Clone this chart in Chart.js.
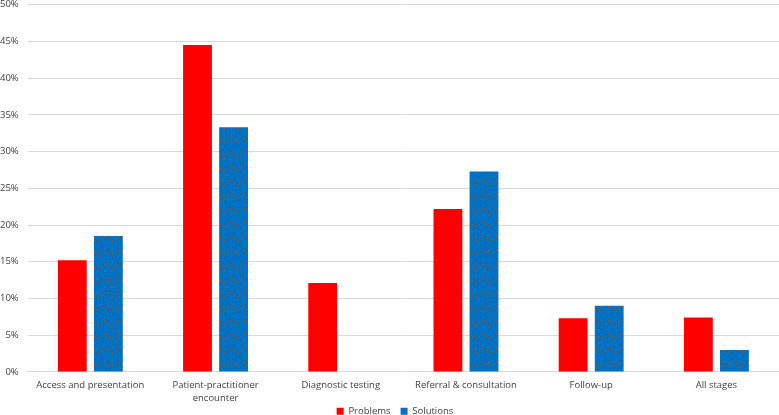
<!DOCTYPE html>
<html>
<head>
<meta charset="utf-8">
<script src="https://cdn.jsdelivr.net/npm/chart.js@4.4.1/dist/chart.umd.min.js"></script>
<style>
html,body{margin:0;padding:0;background:#fff;overflow:hidden;}
#wrap{width:779px;height:415px;position:relative;overflow:hidden;}
#inner{position:absolute;left:-9px;top:-10px;width:788px;height:451px;}
</style>
</head>
<body>
<div id="wrap"><div id="inner"><canvas id="c"></canvas></div></div>
<script>
const categories = ["Access and presentation", ["Patient-practitioner", "encounter"], "Diagnostic testing", "Referral & consultation", "Follow-up", "All stages"];
const problems = [15.2, 44.5, 12.1, 22.2, 7.3, 7.4];
const solutions = [18.5, 33.3, 0, 27.3, 9.0, 3.0];
const yTicks = [0, 5, 10, 15, 20, 25, 30, 35, 40, 45, 50];

function makePattern() {
  const p = document.createElement('canvas');
  p.width = 7; p.height = 7;
  const g = p.getContext('2d');
  g.fillStyle = '#0070C0';
  g.fillRect(0, 0, 7, 7);
  g.fillStyle = 'rgba(150,85,45,0.9)';
  g.fillRect(1, 1, 1, 1);
  g.fillRect(5, 3, 1, 1);
  g.fillRect(2, 5, 1, 1);
  return document.createElement('canvas').getContext('2d').createPattern(p, 'repeat');
}
const pattern = makePattern();

Chart.defaults.font.family = "'Open Sans', 'Liberation Sans', sans-serif";
Chart.defaults.color = '#404040';

const shiftLegend = {
  id: 'shiftLegend',
  afterLayout(chart) {
    const l = chart.legend;
    if (l) { l.left += 10; l.right += 10; l.top -= 15; l.bottom -= 15; }
  }
};

new Chart(document.getElementById('c'), {
  type: 'bar',
  data: {
    labels: categories,
    datasets: [
      { label: 'Problems', data: problems, backgroundColor: '#FF0000', borderWidth: 0 },
      { label: 'Solutions', data: solutions, backgroundColor: pattern, borderWidth: 0 }
    ]
  },
  plugins: [shiftLegend],
  options: {
    responsive: true,
    maintainAspectRatio: false,
    animation: false,
    devicePixelRatio: 1,
    layout: { padding: { top: 4, right: 0, left: 0, bottom: 0 } },
    datasets: { bar: { categoryPercentage: 0.576, barPercentage: 0.8 } },
    scales: {
      x: {
        grid: { display: false, drawTicks: false },
        border: { display: true, color: '#d9d9d9' },
        ticks: { font: { size: 9.5, lineHeight: 1.45 }, color: '#404040', maxRotation: 0, autoSkip: false, padding: 6 }
      },
      y: {
        min: 0, max: 50,
        afterBuildTicks: (axis) => { axis.ticks = yTicks.map(v => ({ value: v })); },
        grid: { color: '#d9d9d9', drawTicks: false },
        border: { display: false },
        ticks: { font: { size: 9.5 }, color: '#404040', padding: 9, callback: v => v + '%' }
      }
    },
    plugins: {
      legend: {
        position: 'bottom',
        labels: { boxWidth: 7, boxHeight: 7, font: { size: 9.5 }, color: '#404040', padding: 10 }
      },
      tooltip: { enabled: false }
    }
  }
});
</script>
</body>
</html>
